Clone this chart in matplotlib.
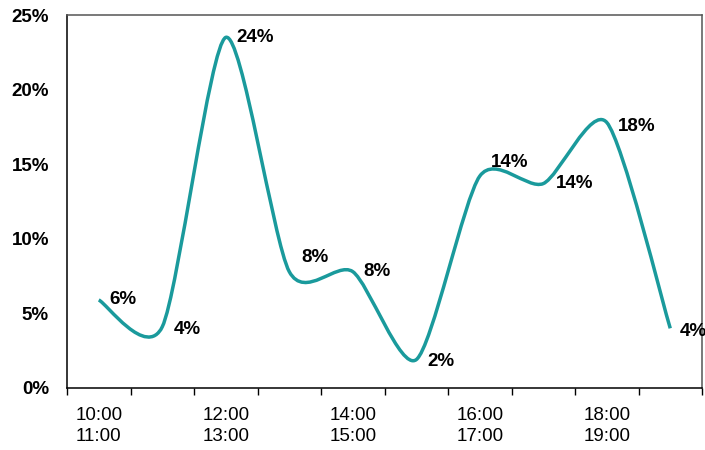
import matplotlib.pyplot as plt
from matplotlib.path import Path
from matplotlib.patches import PathPatch
from matplotlib.ticker import FuncFormatter

plt.rcParams['font.family'] = ['Liberation Sans', 'DejaVu Sans']

hours = ['10:00\n11:00', '11:00\n12:00', '12:00\n13:00', '13:00\n14:00', '14:00\n15:00',
         '15:00\n16:00', '16:00\n17:00', '17:00\n18:00', '18:00\n19:00', '19:00\n20:00']
share = [5.9, 4.1, 23.5, 7.8, 7.8, 1.9, 14.2, 13.7, 17.8, 4.0]
labels = ['6%', '4%', '24%', '8%', '8%', '2%', '14%', '14%', '18%', '4%']
# label offsets in points (dx, dy)
label_offsets = [(8, 0), (8, -2), (8, 0), (9, 10), (8, 0), (8, -1), (8, 10), (9, 0), (8, -3), (7, -2)]

color = '#1a9a9c'
fs = 13.5

fig = plt.figure(figsize=(7.05, 4.5), dpi=100)
ax = fig.add_axes([67 / 705, 62 / 450, 635 / 705, 373 / 450])

# smoothed line like excel (cardinal spline as cubic bezier)
k = 8.0
xs = list(range(len(share)))
ys = share
verts = [(xs[0], ys[0])]
codes = [Path.MOVETO]
n = len(xs)
for i in range(n - 1):
    x0, y0 = xs[max(i - 1, 0)], ys[max(i - 1, 0)]
    x1, y1 = xs[i], ys[i]
    x2, y2 = xs[i + 1], ys[i + 1]
    x3, y3 = xs[min(i + 2, n - 1)], ys[min(i + 2, n - 1)]
    c1 = (x1 + (x2 - x0) / k, y1 + (y2 - y0) / k)
    c2 = (x2 - (x3 - x1) / k, y2 - (y3 - y1) / k)
    verts += [c1, c2, (x2, y2)]
    codes += [Path.CURVE4, Path.CURVE4, Path.CURVE4]
ax.add_patch(PathPatch(Path(verts, codes), fill=False, edgecolor=color, lw=2.5,
                       capstyle='butt', joinstyle='round'))

for i in range(n):
    ax.annotate(labels[i], (xs[i], ys[i]), xytext=label_offsets[i], textcoords='offset points',
                ha='left', va='center', fontsize=fs, fontweight='bold', annotation_clip=False)

ax.set_xlim(-0.5, n - 0.5)
ax.set_ylim(0, 25)
ax.set_yticks([0, 5, 10, 15, 20, 25])
ax.yaxis.set_major_formatter(FuncFormatter(lambda v, p: '%d%%' % v))
ax.tick_params(axis='y', length=0, pad=13, labelsize=fs)
for t in ax.get_yticklabels():
    t.set_fontweight('bold')

ax.set_xticks([i - 0.5 for i in range(n + 1)], minor=True)
ax.set_xticks(xs[::2])
ax.set_xticklabels(hours[::2], fontsize=fs, linespacing=1.25)
ax.tick_params(axis='x', which='major', length=0, pad=14)
ax.tick_params(axis='x', which='minor', length=5, width=1, color='black')

ax.spines['left'].set_color('black')
ax.spines['bottom'].set_color('black')
ax.spines['top'].set_color('#555555')
ax.spines['right'].set_color('#555555')
for s in ax.spines.values():
    s.set_linewidth(1.1)

fig.savefig('out.png', dpi=100)
